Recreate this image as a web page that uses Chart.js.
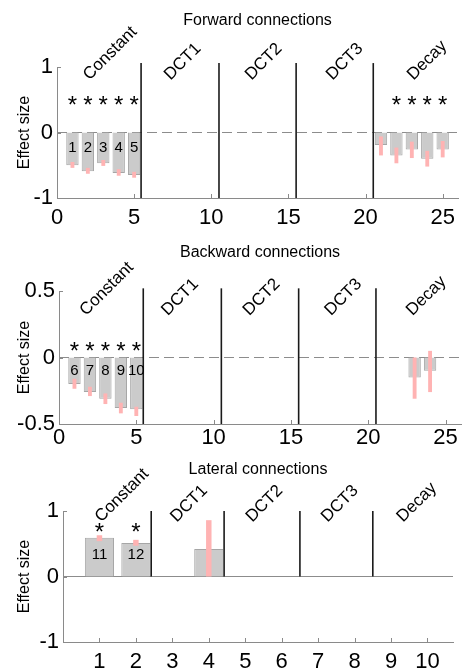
<!DOCTYPE html>
<html>
<head>
<meta charset="utf-8">
<script src="https://cdn.jsdelivr.net/npm/chart.js@4.4.1/dist/chart.umd.min.js"></script>
<style>
  html, body { margin: 0; padding: 0; background: #fff; }
  .panel { position: absolute; left: 0; width: 462px; }
</style>
</head>
<body>
<div class="panel" style="top:0;height:228px"><canvas id="fwd"></canvas></div>
<div class="panel" style="top:226px;height:224px"><canvas id="bwd"></canvas></div>
<div class="panel" style="top:446px;height:223px"><canvas id="lat"></canvas></div>
<script>
const groupNames = ["Constant", "DCT1", "DCT2", "DCT3", "Decay"];

// Forward connections
const fwdX = [1, 2, 3, 4, 5, 21, 22, 23, 24, 25];
const fwdMean = [-0.50, -0.59, -0.47, -0.62, -0.65, -0.19, -0.35, -0.26, -0.40, -0.26];
const fwdLow = [-0.54, -0.63, -0.51, -0.66, -0.69, -0.35, -0.47, -0.39, -0.52, -0.38];
const fwdHigh = [-0.45, -0.54, -0.42, -0.56, -0.60, -0.06, -0.23, -0.14, -0.28, -0.13];
const fwdNum = ["1", "2", "3", "4", "5", "", "", "", "", ""];
const fwdStar = [1, 1, 1, 1, 1, 0, 1, 1, 1, 1];
const fwdSplits = [5.45, 10.5, 15.5, 20.5];
const fwdXTicks = [0, 5, 10, 15, 20, 25];
const fwdYTicks = [-1, 0, 1];

// Backward connections
const bwdX = [1, 2, 3, 4, 5, 23, 24];
const bwdMean = [-0.20, -0.26, -0.31, -0.38, -0.39, -0.15, -0.10];
const bwdLow = [-0.235, -0.29, -0.35, -0.42, -0.44, -0.31, -0.26];
const bwdHigh = [-0.16, -0.22, -0.27, -0.34, -0.37, 0.0, 0.05];
const bwdNum = ["6", "7", "8", "9", "10", "", ""];
const bwdStar = [1, 1, 1, 1, 1, 0, 0];
const bwdSplits = [5.45, 10.5, 15.5, 20.5];
const bwdXTicks = [0, 5, 10, 15, 20, 25];
const bwdYTicks = [-0.5, 0, 0.5];

// Lateral connections
const latX = [1, 2, 4];
const latMean = [0.59, 0.51, 0.42];
const latLow = [0.54, 0.47, 0.0];
const latHigh = [0.63, 0.56, 0.86];
const latNum = ["11", "12", ""];
const latStar = [1, 1, 0];
const latSplits = [2.42, 4.42, 6.5, 8.5];
const latXTicks = [1, 2, 3, 4, 5, 6, 7, 8, 9, 10];
const latYTicks = [-1, 0, 1];

const FONT = '"Liberation Sans", Arial, Helvetica, sans-serif';
const axisColor = "#8a8a8a";

const decor = {
  id: "decor",
  afterDatasetsDraw(chart, args, o) {
    const { ctx, chartArea: a, scales: { x, y } } = chart;
    ctx.save();
    // inward tick marks
    ctx.strokeStyle = axisColor;
    ctx.lineWidth = 1;
    x.ticks.forEach(t => {
      const px = Math.round(x.getPixelForValue(t.value)) + 0.5;
      ctx.beginPath(); ctx.moveTo(px, a.bottom); ctx.lineTo(px, a.bottom - 4); ctx.stroke();
    });
    y.ticks.forEach(t => {
      const py = Math.round(y.getPixelForValue(t.value)) + 0.5;
      ctx.beginPath(); ctx.moveTo(a.left, py); ctx.lineTo(a.left + 4, py); ctx.stroke();
    });

    ctx.fillStyle = "#000";
    // title
    ctx.font = "16px " + FONT;
    ctx.textAlign = "center";
    ctx.textBaseline = "middle";
    ctx.fillText(o.title, (a.left + a.right) / 2, o.titleY);

    // rotated group names
    ctx.font = "17px " + FONT;
    ctx.textAlign = "left";
    ctx.textBaseline = "alphabetic";
    groupNames.forEach((g, i) => {
      const px = x.getPixelForValue(o.labelX0 + o.labelStep * i);
      const py = y.getPixelForValue(o.labelY);
      ctx.save();
      ctx.translate(px, py);
      ctx.rotate(-Math.PI / 4);
      ctx.fillText(g, 0, 0);
      ctx.restore();
    });

    // stars and bar numbers
    ctx.textAlign = "center";
    o.xs.forEach((v, i) => {
      const px = x.getPixelForValue(v);
      if (o.stars[i]) {
        ctx.font = "24px " + FONT;
        ctx.textBaseline = "alphabetic";
        ctx.fillText("*", px, y.getPixelForValue(o.starY) + 13);
      }
      if (o.nums[i]) {
        ctx.font = "15px " + FONT;
        ctx.textBaseline = "middle";
        ctx.fillText(o.nums[i], px, y.getPixelForValue(o.numY));
      }
    });
    ctx.restore();
  }
};

function makePanel(id, p) {
  const bars = p.xs.map((v, i) => ({ x: v, y: p.mean[i] }));
  const errs = p.xs.map((v, i) => ({ x: v, y: [p.low[i], p.high[i]] }));
  const splitSets = p.splits.map(s => ({
    type: "line",
    data: [{ x: s, y: p.splitFrom }, { x: s, y: p.splitTo }],
    borderColor: "#1a1a1a",
    borderWidth: 1.6,
    pointRadius: 0,
    clip: false,
    order: 1
  }));
  new Chart(document.getElementById(id), {
    type: "bar",
    data: {
      datasets: [
        {
          type: "line",
          data: [{ x: p.xMin, y: 0 }, { x: p.xMax, y: 0 }],
          borderColor: "#8c8c8c",
          borderWidth: 1,
          borderDash: p.dashed ? [10, 5] : [],
          pointRadius: 0,
          order: 5
        },
        {
          data: bars,
          backgroundColor: "#cbcbcb",
          borderColor: "#a6a6a6",
          borderWidth: 1,
          grouped: false,
          barPercentage: 0.8,
          categoryPercentage: 1,
          order: 4
        },
        {
          data: errs,
          backgroundColor: "#ffb3b3",
          borderWidth: 0,
          grouped: false,
          barPercentage: p.errPct,
          categoryPercentage: 1,
          order: 3
        },
        ...splitSets
      ]
    },
    options: {
      responsive: true,
      maintainAspectRatio: false,
      animation: false,
      layout: { padding: { top: p.padTop, right: p.padRight, left: 0, bottom: 0 } },
      plugins: {
        legend: { display: false },
        tooltip: { enabled: false },
        decor: p
      },
      scales: {
        x: {
          type: "linear",
          min: p.xMin,
          max: p.xMax,
          offset: false,
          grid: { display: false, drawTicks: false },
          border: { display: true, color: axisColor, width: 1 },
          afterBuildTicks: s => { s.ticks = p.xTicks.map(v => ({ value: v })); },
          afterFit: s => { s.height = p.xAxisH; },
          ticks: { color: "#000", font: { family: FONT, size: 22 }, padding: p.xPad, maxRotation: 0 }
        },
        y: {
          min: p.yMin,
          max: p.yMax,
          grid: { display: false, drawTicks: false },
          border: { display: true, color: axisColor, width: 1 },
          afterBuildTicks: s => { s.ticks = p.yTicks.map(v => ({ value: v })); },
          afterFit: s => { s.width = p.yAxisW; },
          ticks: { color: "#000", font: { family: FONT, size: 22 }, padding: 4, callback: v => String(v) },
          title: { display: true, text: "Effect size", color: "#000", font: { family: FONT, size: 16 }, padding: { top: 15, bottom: 0 } }
        }
      }
    },
    plugins: [decor]
  });
}

makePanel("fwd", {
  title: "Forward connections", titleY: 21,
  xs: fwdX, mean: fwdMean, low: fwdLow, high: fwdHigh, nums: fwdNum, stars: fwdStar,
  splits: fwdSplits, splitFrom: -1, splitTo: 1.06, xTicks: fwdXTicks, yTicks: fwdYTicks,
  xMin: 0, xMax: 26, yMin: -1, yMax: 1, dashed: true, errPct: 0.25,
  padTop: 67, padRight: 2, yAxisW: 57, xAxisH: 30, xPad: 7,
  labelX0: 2.1, labelStep: 5.25, labelY: 0.79, starY: 0.5, numY: -0.23
});

makePanel("bwd", {
  title: "Backward connections", titleY: 27,
  xs: bwdX, mean: bwdMean, low: bwdLow, high: bwdHigh, nums: bwdNum, stars: bwdStar,
  splits: bwdSplits, splitFrom: -0.5, splitTo: 0.52, xTicks: bwdXTicks, yTicks: bwdYTicks,
  xMin: 0, xMax: 26, yMin: -0.5, yMax: 0.5, dashed: true, errPct: 0.25,
  padTop: 65, padRight: 1, yAxisW: 59, xAxisH: 26, xPad: 1,
  labelX0: 1.75, labelStep: 5.28, labelY: 0.31, starY: 0.09, numY: -0.1
});

makePanel("lat", {
  title: "Lateral connections", titleY: 24,
  xs: latX, mean: latMean, low: latLow, high: latHigh, nums: latNum, stars: latStar,
  splits: latSplits, splitFrom: 0, splitTo: 1, xTicks: latXTicks, yTicks: latYTicks,
  xMin: 0, xMax: 10.7, yMin: -1, yMax: 1, dashed: false, errPct: 0.15,
  padTop: 65, padRight: 9, yAxisW: 63, xAxisH: 27, xPad: 7,
  labelX0: 1.05, labelStep: 2.07, labelY: 0.82, starY: 0.76, numY: 0.33
});
</script>
</body>
</html>
